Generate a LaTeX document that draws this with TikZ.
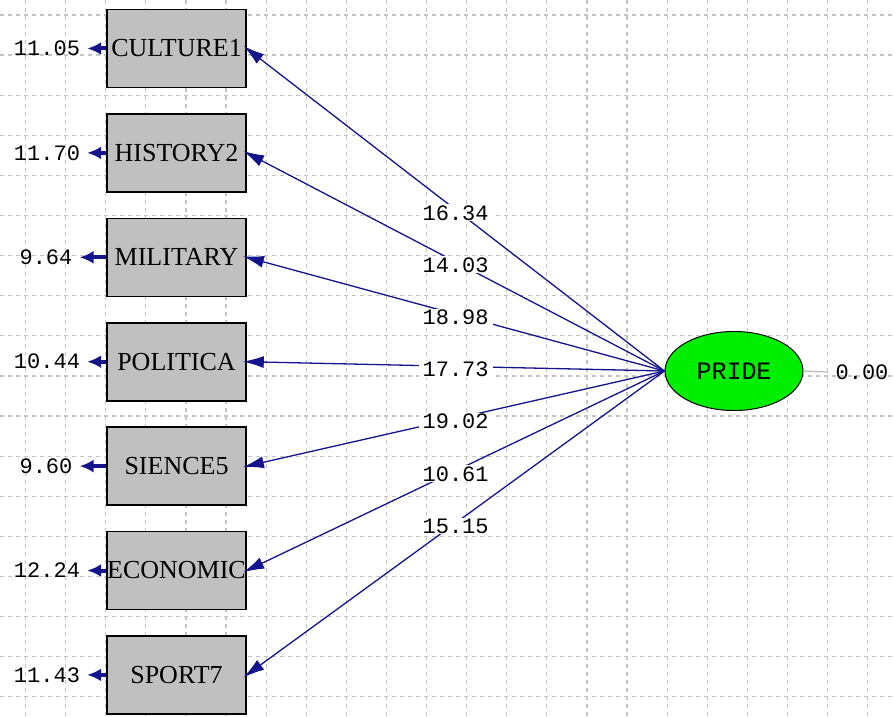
\documentclass[tikz,border=0pt]{standalone}
\usepackage{fontspec}
\setmainfont{Liberation Serif}
\newfontfamily\numfont{Liberation Mono}
\usetikzlibrary{arrows.meta,shapes.geometric}
\definecolor{pathblue}{RGB}{20,20,140}
\definecolor{boxgray}{RGB}{192,192,192}
\definecolor{gridgray}{RGB}{196,196,196}
\definecolor{pridegreen}{RGB}{0,238,0}
\definecolor{residgray}{RGB}{185,185,185}
\begin{document}
\begin{tikzpicture}[x=1pt,y=-1pt,
  obsbox/.style={draw=black, line width=1.6pt, fill=boxgray, minimum width=139pt, minimum height=78pt, inner sep=0pt, font=\fontsize{26}{30}\selectfont},
  latent/.style={ellipse, draw=black, line width=1pt, fill=pridegreen, minimum width=138pt, minimum height=79pt, inner sep=0pt, font=\numfont\fontsize{25}{28}\selectfont},
  errval/.style={inner xsep=7pt, inner ysep=2pt, font=\numfont\fontsize{22}{26}\selectfont, text=black},
  errarrow/.style={draw=pathblue, line width=4pt, -{Latex[length=14pt,width=13pt]}},
  loading/.style={draw=pathblue, line width=1.3pt, -{Latex[length=21pt,width=12pt]}, shorten >=-4pt},
  coef/.style={fill=white, inner xsep=4pt, inner ysep=1pt, font=\numfont\fontsize{22}{26}\selectfont, pos=0.5, yshift=-3pt, text=black},
  gridline/.style={draw=gridgray, line width=1.2pt, dash pattern=on 4pt off 4pt},
  residline/.style={draw=residgray, line width=1.2pt}
]
\useasboundingbox (0,0) rectangle (895,717);
\fill[white] (0,0) rectangle (895,717);
% grid
\foreach \k in {0,...,21} \draw[gridline] ({25.5+40.1*\k},0) -- ({25.5+40.1*\k},717);
\foreach \k in {0,...,17} \draw[gridline] (0,{15+40.1*\k}) -- (895,{15+40.1*\k});
% observed variables
\node[obsbox] (v1) at (176.5,48.5) {CULTURE1};
\node[obsbox] (v2) at (176.5,152.9) {HISTORY2};
\node[obsbox] (v3) at (176.5,257.3) {MILITARY};
\node[obsbox] (v4) at (176.5,361.7) {POLITICA};
\node[obsbox] (v5) at (176.5,466.1) {SIENCE5};
\node[obsbox] (v6) at (176.5,570.5) {ECONOMIC};
\node[obsbox] (v7) at (176.5,674.9) {SPORT7};
% latent
\node[latent] (pride) at (734,371) {PRIDE};
% error values
\node[errval] (e1) at (47,48.5) {11.05};
\node[errval] (e2) at (47,152.9) {11.70};
\node[errval] (e3) at (46,257.3) {9.64};
\node[errval] (e4) at (47,361.7) {10.44};
\node[errval] (e5) at (46,466.1) {9.60};
\node[errval] (e6) at (47,570.5) {12.24};
\node[errval] (e7) at (47,674.9) {11.43};
\node[errval] (r) at (862,372) {0.00};
% error arrows
\foreach \i in {1,...,7} \draw[errarrow] (v\i.west) -- (e\i.east);
\draw[residline] (pride.east) -- (r.west);
% loadings
\draw[loading] (pride.west) -- node[coef] {16.34} (v1.east);
\draw[loading] (pride.west) -- node[coef] {14.03} (v2.east);
\draw[loading] (pride.west) -- node[coef] {18.98} (v3.east);
\draw[loading] (pride.west) -- node[coef] {17.73} (v4.east);
\draw[loading] (pride.west) -- node[coef] {19.02} (v5.east);
\draw[loading] (pride.west) -- node[coef] {10.61} (v6.east);
\draw[loading] (pride.west) -- node[coef] {15.15} (v7.east);
\end{tikzpicture}
\end{document}
